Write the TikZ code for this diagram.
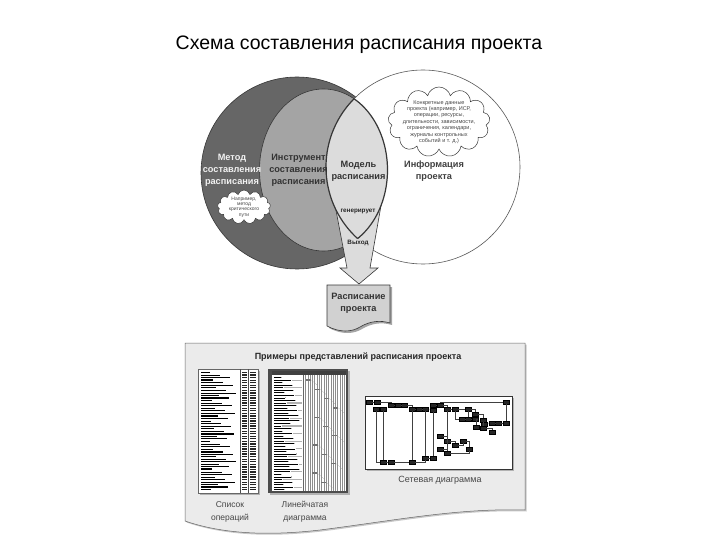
\documentclass[tikz,border=0pt]{standalone}
\usepackage{fontspec}
\setmainfont{Liberation Sans}
\usetikzlibrary{positioning, shapes.symbols}

\definecolor{metodgray}{RGB}{102,102,102}
\definecolor{toolgray}{RGB}{164,164,164}
\definecolor{modelgray}{RGB}{220,220,220}
\definecolor{panelgray}{RGB}{235,235,235}
\definecolor{edgegray}{RGB}{55,55,55}
\definecolor{textgray}{RGB}{70,70,70}

\begin{document}
\begin{tikzpicture}[
        x=1pt, y=-1pt,
        font=\fontsize{9}{11.5}\selectfont
    ]
    % styles
    \tikzset{
        vennlabel/.style={font=\fontsize{9.2}{11.8}\selectfont\bfseries, align=center, inner sep=0pt},
        cloudbox/.style={cloud, cloud puffs=13, cloud ignores aspect, draw=edgegray, fill=white, line width=0.5pt, inner sep=0pt},
        cloudtext/.style={align=center, text=textgray, inner sep=0pt},
        flowlabel/.style={font=\fontsize{6.3}{7}\selectfont\bfseries, inner sep=0.5pt, text=black!85},
        caption/.style={font=\fontsize{8.5}{13}\selectfont, text=textgray, align=center, inner sep=0pt},
        netnode/.style={draw=black, fill=black!85, minimum width=6.5pt, minimum height=4pt, inner sep=0pt},
        netline/.style={draw=black!75, line width=0.35pt}
    }
    \useasboundingbox (0,0) rectangle (720,540);

    % --- Title ---
    \node[font=\fontsize{19.5}{22}\selectfont] (title) at (359,45) {Схема составления расписания проекта};

    % --- Circles ---
    \filldraw[fill=metodgray, draw=edgegray, line width=0.6pt] (297,173) circle (96);
    \filldraw[fill=toolgray, draw=edgegray, line width=0.6pt] (323.5,170) ellipse [x radius=64, y radius=81];
    \filldraw[fill=white, draw=black!65, line width=0.6pt] (423,167) circle (97);

    % output funnel and arrow
    \filldraw[fill=modelgray, draw=edgegray, line width=0.6pt, line join=miter]
        (334,200) -- (382,200) -- (370,268) -- (378,268) -- (359,284)
        -- (340,268) -- (347,268) -- cycle;

    % model lens
    \begin{scope}
        \clip (423,167) circle (97);
        \filldraw[fill=modelgray, draw=edgegray, line width=1.2pt] (323.5,170) ellipse [x radius=64, y radius=81];
    \end{scope}
    \begin{scope}
        \clip (323.5,170) ellipse [x radius=64, y radius=81];
        \draw[edgegray, line width=1.2pt] (423,167) circle (97);
    \end{scope}

    \node[vennlabel, text=white!95!black] (metod) at (232,170) {Метод\\составления\\расписания};
    \node[vennlabel, text=black!80] (tool) at (298.5,170) {Инструмент\\составления\\расписания};
    \node[vennlabel, text=black!80] (model) at (358.5,171) {Модель\\расписания};
    \node[vennlabel, text=black!75] (info) at (434,171.5) {Информация\\проекта};
    \node[flowlabel] (generates) at (358,211) {генерирует};
    \node[flowlabel] (output) at (358,243) {Выход};

    % clouds
    \node[cloudbox, minimum width=102pt, minimum height=70pt] (infocloud) at (439,122) {};
    \node[cloudtext, font=\fontsize{5.5}{6.4}\selectfont] (infotext) at (infocloud)
        {Конкретные данные\\проекта (например, ИСР,\\операции, ресурсы,\\длительности, зависимости,\\ограничения, календари,\\журналы контрольных\\событий и т. д.)};
    \node[cloudbox, minimum width=53pt, minimum height=34pt] (metodcloud) at (244,207) {};
    \node[cloudtext, font=\fontsize{5}{5.4}\selectfont] (metodtext) at (metodcloud)
        {Например,\\метод\\критического\\пути};

    % --- Schedule document ---
    \fill[black!35] (329,287) -- (392,287) -- (392,325)
        .. controls (382,322) and (372,323) .. (362,329)
        .. controls (354,334) and (342,335) .. (329,328) -- cycle;
    \filldraw[fill=modelgray!95!black, draw=edgegray, line width=0.6pt] (327,285) -- (390,285) -- (390,323)
        .. controls (380,320) and (370,321) .. (360,327)
        .. controls (352,332) and (340,333) .. (327,326) -- cycle;
    \node[vennlabel, text=black!80] (schedule) at (358.5,303.5) {Расписание\\проекта};

    % --- Examples panel ---
    \fill[black!22] (186.5,344.5) -- (526.5,344.5) -- (526.5,511.5)
        .. controls (459.5,509.5) and (399.5,521.5) .. (321.5,531.5)
        .. controls (269.5,537.5) and (224.5,535.5) .. (186.5,522.5) -- cycle;
    \filldraw[fill=panelgray, draw=black!60, line width=0.5pt] (185,343) -- (525,343) -- (525,510)
        .. controls (458,508) and (398,520) .. (320,530)
        .. controls (268,536) and (223,534) .. (185,521) -- cycle;
    \node[font=\fontsize{9}{11}\selectfont\bfseries, text=black!85] (examples) at (358,357) {Примеры представлений расписания проекта};

    % list of activities
    \fill[black!30] (200,371) rectangle (260,495);
    \filldraw[fill=white, draw=black!60, line width=0.4pt] (198,369) rectangle (258,493);
    \draw[black!70, line width=0.4pt] (240,369) -- (240,493) (248,369) -- (248,493);
    \foreach \i in {0,...,46}{
        \pgfmathsetmacro{\yy}{372.5+2.55*\i}
        \pgfmathsetmacro{\len}{9+mod(\i*37,27)}
        \pgfmathsetmacro{\lw}{mod(\i,7)==3 ? 1.9 : 0.75}
        \draw[black, line width=\lw pt] (201,\yy) -- ++(\len,0);
        \draw[black!85, line width=1.3pt] (242,\yy) -- (246.5,\yy) (250,\yy) -- (256,\yy);
    }
    \node[caption] (listcap) at (230,511.5) {Список\\операций};

    % bar chart
    \fill[black!30] (270,371) rectangle (350,495);
    \fill[black!70] (268,369) rectangle (348,493);
    \fill[white] (272,371) rectangle (346,491);
    \fill[black!75] (272,371) rectangle (346,375);
    \foreach \x in {305.5,307.8,...,345}
        \draw[black!45, line width=0.45pt] (\x,375) -- (\x,491);
    \foreach \i in {0,...,44}{
        \pgfmathsetmacro{\yy}{377.5+2.55*\i}
        \pgfmathsetmacro{\len}{7+mod(\i*29,19)}
        \draw[black, line width=0.8pt] (274,\yy) -- ++(\len,0);
        \pgfmathsetmacro{\gl}{mod(\i,3)==1 ? 302 : 274+\len}
        \draw[black!30, line width=1.1pt] (274+\len+0.5,\yy) -- (\gl,\yy);
    }
    \draw[black!60, line width=0.5pt] (303,375) -- (303,491);
    \foreach \i in {0,...,11}{
        \pgfmathsetmacro{\bx}{306+mod(\i*9,28)}
        \draw[black!55, line width=1.3pt] (\bx,380+9.3*\i) -- ++(5,0);
        \draw[black!45, densely dotted, line width=0.4pt] (\bx+5,380+9.3*\i) -- (\bx+12,386+9.3*\i);
    }
    \node[caption] (ganttcap) at (305,511.5) {Линейчатая\\диаграмма};

    % network diagram
    \fill[black!30] (367,398) rectangle (514,471);
    \filldraw[fill=white, draw=black!80, line width=0.5pt] (365,396) rectangle (512,469);
    \foreach \i/\x/\y in {1/369/402, 2/377/402, 3/391/405, 4/398/405, 5/404/405,
        6/376/409, 7/383/409, 8/412/409, 9/419/409, 10/425/409, 11/433/405,
        12/440/405, 13/433/410, 14/447/409, 15/455/409, 16/468/409, 17/475/414,
        18/462/419, 19/468/419, 20/475/419, 21/483/420, 22/484/424, 23/492/423,
        24/498/423, 25/506/423, 26/483/428, 27/492/432, 28/476/427, 29/506/402,
        30/440/436, 31/447/441, 32/455/445, 33/463/441, 34/440/449, 35/447/453,
        36/469/449, 37/383/462, 38/391/462, 39/412/462, 40/425/458, 41/433/458}
        \node[netnode] (n\i) at (\x,\y) {};
    \foreach \a/\b in {1/2, 3/4, 4/5, 8/9, 9/10, 10/13, 11/12, 14/15, 15/16, 16/19,
        18/19, 19/20, 22/23, 23/24, 24/25, 25/29, 21/26, 37/38, 38/39, 40/41,
        7/37, 8/39, 10/40, 13/41}
        \draw[netline] (n\a) -- (n\b);
    \foreach \a/\b in {2/3, 5/8, 12/14, 16/17, 17/21, 20/28, 26/27, 30/31, 31/32,
        32/33, 34/35, 35/36, 33/36, 39/40}
        \draw[netline] (n\a) -| (n\b);
    \foreach \a/\b in {6/37, 15/18, 12/29, 14/30, 14/34}
        \draw[netline] (n\a) |- (n\b);
    \node[caption, font=\fontsize{9}{11}\selectfont] (netcap) at (440,480) {Сетевая диаграмма};
\end{tikzpicture}
\end{document}
